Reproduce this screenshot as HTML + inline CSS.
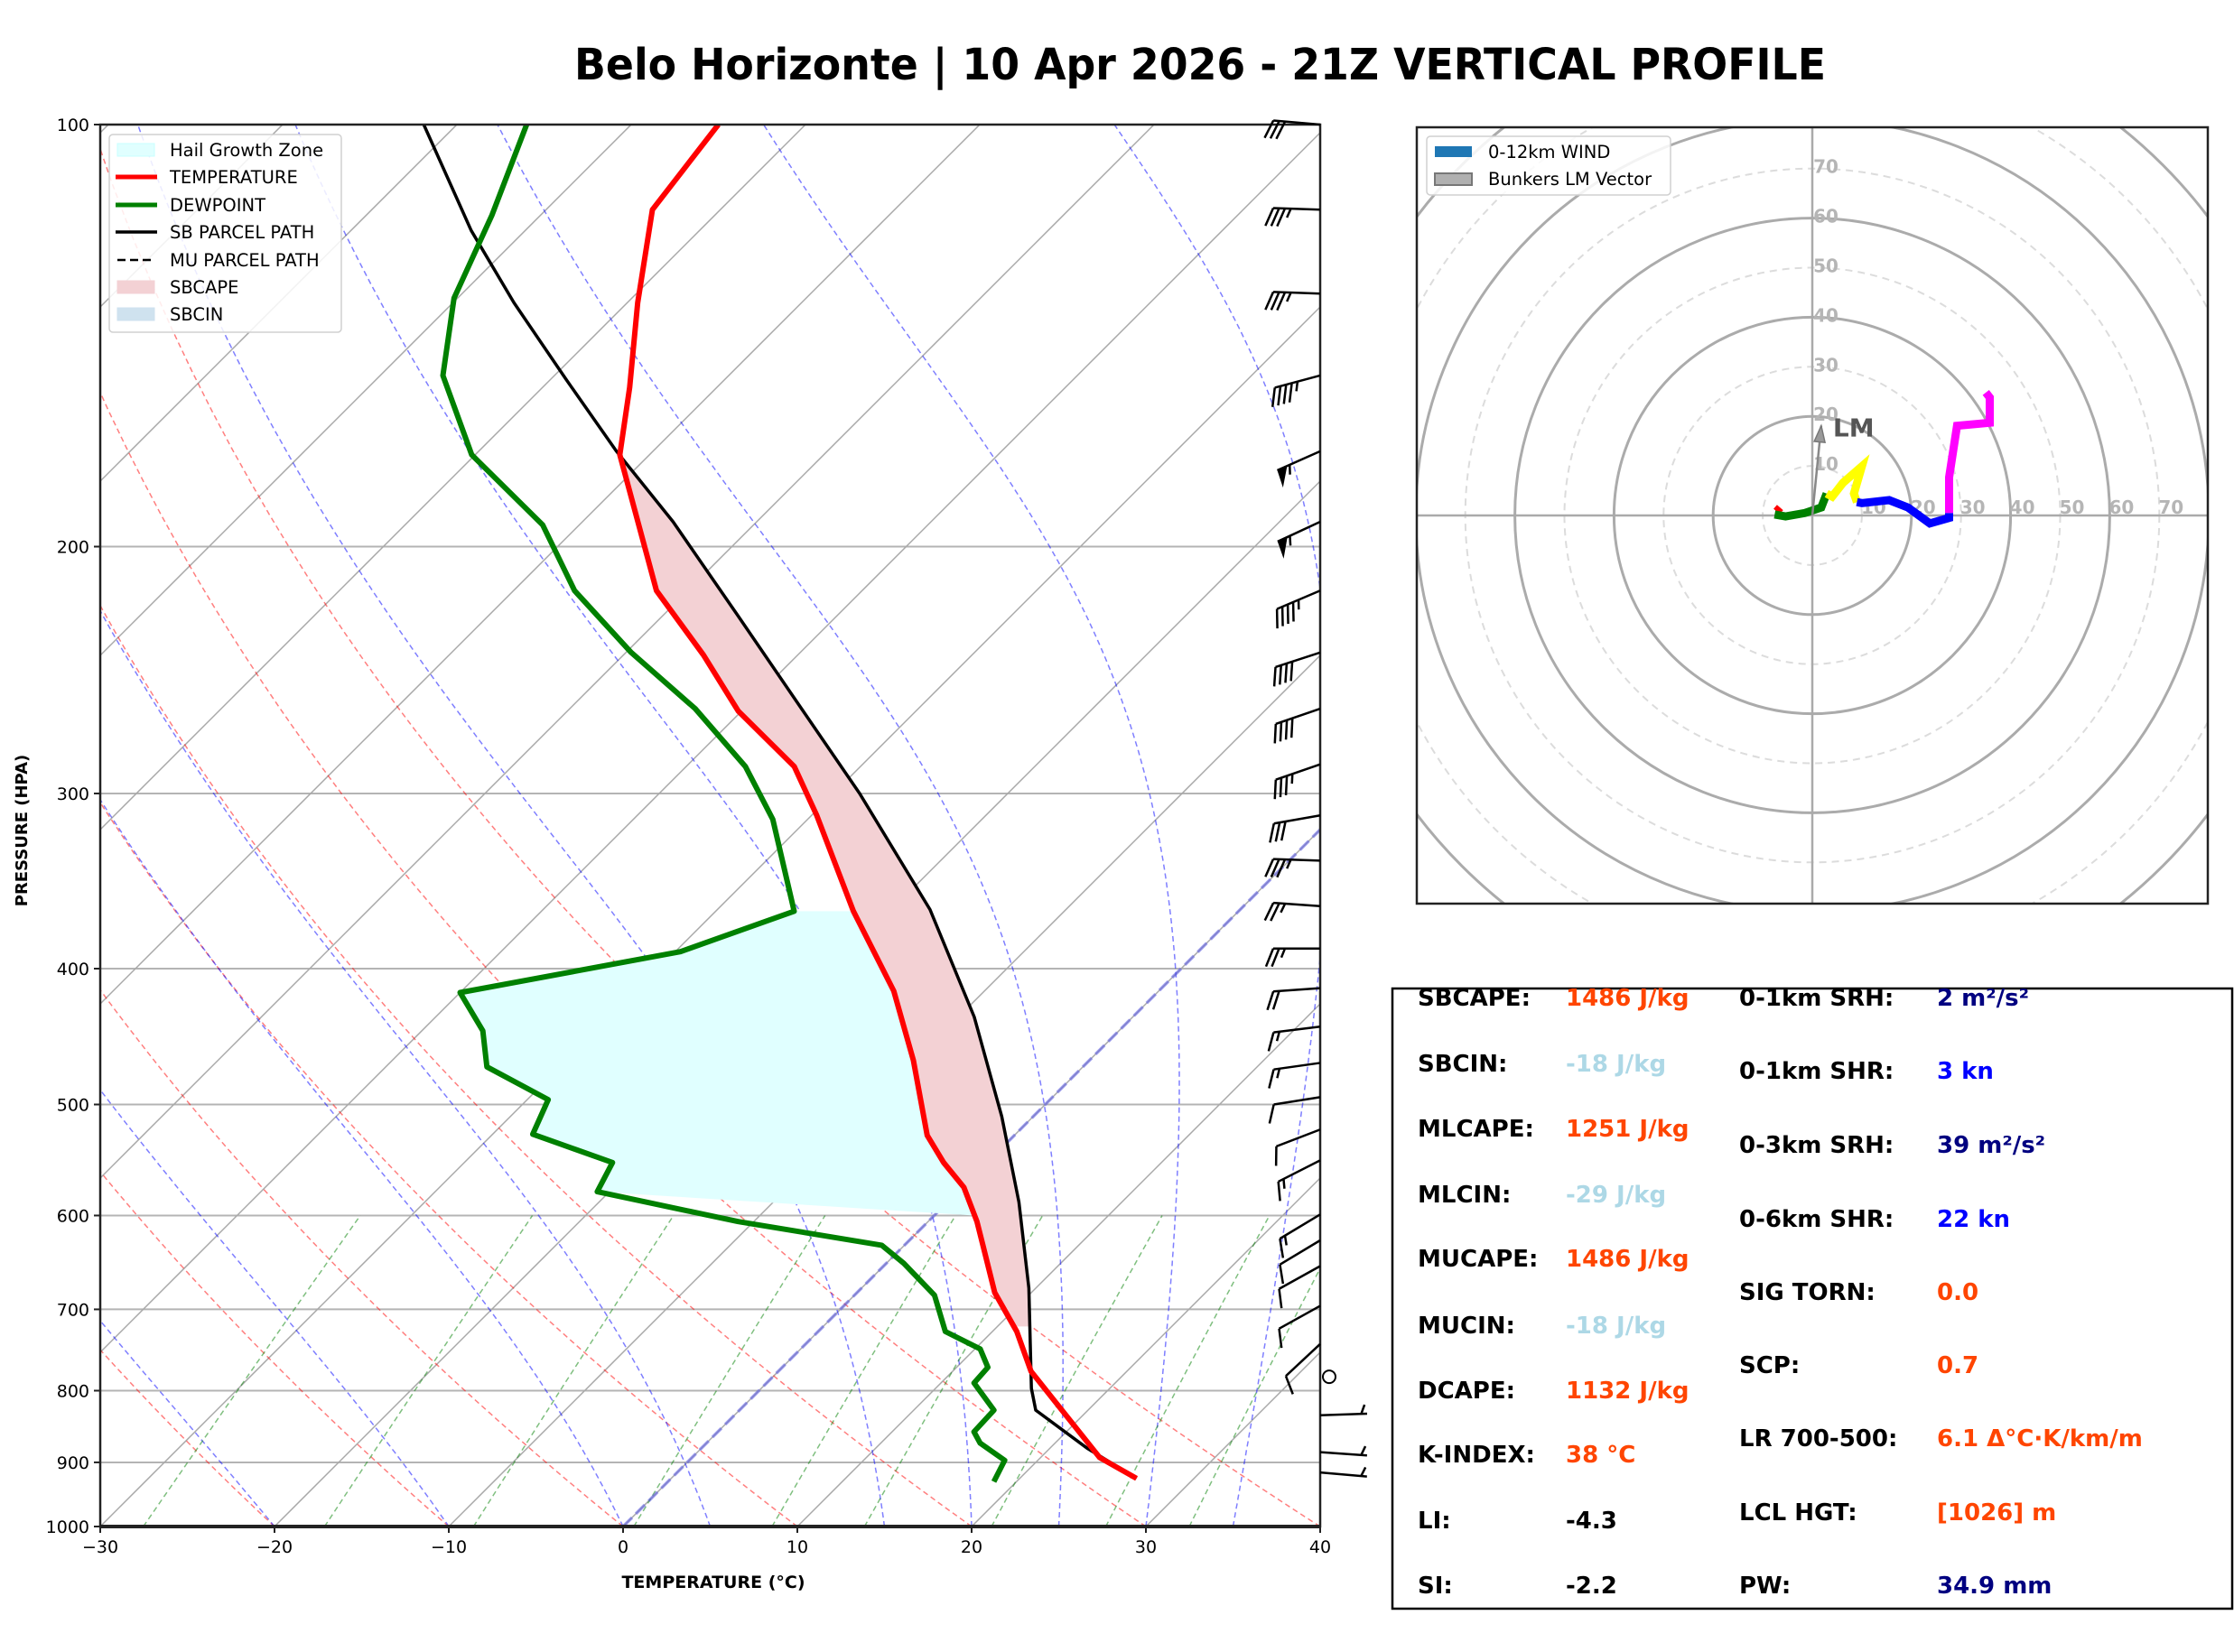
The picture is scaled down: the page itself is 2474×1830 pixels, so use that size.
<!DOCTYPE html>
<html><head><meta charset="utf-8"><title>Belo Horizonte Vertical Profile</title>
<style>html,body{margin:0;padding:0;background:#fff}svg{display:block;font-family:"DejaVu Sans","Liberation Sans",sans-serif}</style>
</head><body>
<svg id="chart" xmlns="http://www.w3.org/2000/svg" width="2474" height="1830" viewBox="0 0 2474 1830">
<defs>
<clipPath id="skewclip"><rect x="111" y="138" width="1351" height="1553"/></clipPath>
<clipPath id="hodoclip"><rect x="1569" y="141" width="876" height="860"/></clipPath>
</defs>
<text x="1329" y="88" text-anchor="middle" font-size="48" font-weight="bold" textLength="1386" lengthAdjust="spacingAndGlyphs">Belo Horizonte | 10 Apr 2026 - 21Z VERTICAL PROFILE</text>
<g id="skew"></g>
<g id="hodo"></g>
<g id="table"></g>
</svg>
<script>
// ---- Sounding data ----
const tempP=[924,893,826,775,726,681,630,606,573,550,526,465,415,364,311,287,262,239,215,172,154,134,115,100];
const tempT=[26.7,23.4,18.5,14.5,11.4,7.9,4.5,2.8,0.1,-2.5,-5,-10.1,-15.2,-22.1,-29.7,-33.8,-40.2,-45.4,-51.8,-61.7,-65,-69.4,-73.9,-75];
const dewP=[929,897,872,856,826,790,770,747,726,684,649,630,606,577,550,525,496,470,443,416,389,364,313,287,261,238,215,193,172,151,133,116,100];
const dewT=[18.7,18.1,15.7,14.7,14.6,11.9,11.8,10.3,7.3,4.6,1,-1.3,-10.9,-20.7,-21.5,-27.7,-28.8,-34.2,-36.5,-40,-29.7,-25.5,-32,-36.6,-42.8,-49.7,-56.5,-62.1,-70.2,-76.4,-80.2,-82.8,-86];
const parcelP=[924,880,826,797,676,587,510,433,363,300,261,224,192,171,152,134,119,100];
const parcelT=[26.7,22.2,17,15.5,9.6,4.1,-1.8,-9.1,-17.8,-28.5,-36.7,-45.7,-54.8,-62.1,-69.1,-76.5,-83.1,-91.9];
const windP=[100,115,132,151,171,192,215,238,261,286,311,335,361,387,413,440,467,494,521,548,599,625,652,696,741,782,833,885,915];
const windSpd=[30,35,35,45,55,55,45,40,40,35,30,35,25,25,20,15,15,10,10,15,15,10,10,10,10,0,5,5,5];
const windDir=[275,272,272,255,246,245,247,252,251,251,260,272,274,270,266,263,262,261,249,243,239,239,241,241,227,0,88,94,95];
const pTicks=[100,200,300,400,500,600,700,800,900,1000];
const tTicks=[-30,-20,-10,0,10,20,30,40];
const dryT0=[-30,-20,-10,0,10,20,30,40];
const moistT0=[-20,-10,0,5,15,20,25,30,35];
const mixW=[0.0004,0.001,0.002,0.004,0.007,0.01,0.016,0.024,0.032];
// ---- Hodograph data (knots) ----
const hodoRedU=[-6.5,-7.2]; const hodoRedV=[1.6,0.8];
const hodoGreenU=[-7.6,-5.4,-1.5,1.8,2.9]; const hodoGreenV=[0.2,-0.2,0.5,1.6,4.4];
const hodoYellowU=[2.9,4,6.2,10,8.4,9]; const hodoYellowV=[4.4,3.8,6.6,9.9,4.4,2.7];
const hodoBlueU=[9,10,15.5,19.3,23.7,27.6,27.6]; const hodoBlueV=[2.7,2.5,3.1,1.6,-1.6,-0.5,0.5];
const hodoMagU=[27.6,27.6,29.2,35.8,35.8,35.8,35]; const hodoMagV=[0.5,7.7,18.1,18.7,23.1,23.8,24.8];
const lmU=1.8, lmV=18.1;
const ringKn=[10,20,30,40,50,60,70,80,90,100];
const ringLabels=[10,20,30,40,50,60,70];

const NS='http://www.w3.org/2000/svg';
function el(tag,attrs,parent){const e=document.createElementNS(NS,tag);for(const k in attrs)e.setAttribute(k,attrs[k]);parent.appendChild(e);return e;}
const X0=111,X1=1462,YT=138,YB=1691;
function yP(p){return YB-Math.log10(1000/p)*(YB-YT);}
function xTP(T,p){return X0+(T+30)/70*(X1-X0)+(YB-yP(p));}
function interp(P,T,p){const lp=Math.log(p);for(let i=0;i<P.length-1;i++){const a=Math.log(P[i]),b=Math.log(P[i+1]);if((lp<=a&&lp>=b)){return T[i]+(T[i+1]-T[i])*(lp-a)/(b-a);}}return lp>Math.log(P[0])?T[0]:T[T.length-1];}
function pathFrom(pts){return pts.map((q,i)=>(i?'L':'M')+q[0].toFixed(1)+','+q[1].toFixed(1)).join('');}

const skew=document.getElementById('skew');
const clipG=el('g',{'clip-path':'url(#skewclip)'},skew);



pTicks.forEach(p=>{const l=el('line',{x1:X0,x2:X1,y1:yP(p),y2:yP(p),stroke:'#b4b4b4','stroke-width':2},clipG);

});
for(let T=-120;T<=40;T+=10){const l=el('line',{x1:xTP(T,1000),y1:YB,x2:xTP(T,100),y2:YT,stroke:'#a8a8a8','stroke-width':1.5},clipG);

}
dryT0.forEach(t0=>{const pts=[];for(let p=1000;p>=100;p-=10){const T=(t0+273.15)*Math.pow(p/1000,0.2857)-273.15;pts.push([xTP(T,p),yP(p)]);}
const e=el('path',{d:pathFrom(pts),fill:'none',stroke:'rgba(255,0,0,0.5)','stroke-width':1.5,'stroke-dasharray':'6,4'},clipG);

});
function es(Tc){return 6.112*Math.exp(17.67*Tc/(Tc+243.5));}
function dTdp(T,p){const Tc=T-273.15;const e=es(Tc);const rs=0.622*e/(p-e);return (287.04*T+2.501e6*rs)/(p*(1005.7+2.501e6*2.501e6*rs*0.622/(287.04*T*T)));}
moistT0.forEach(t0=>{let T=t0+273.15;const pts=[[xTP(t0,1000),YB]];const dp=-5;for(let p=1000;p>100;p+=dp){const k1=dTdp(T,p);const k2=dTdp(T+k1*dp,p+dp);T+= (k1+k2)/2*dp;pts.push([xTP(T-273.15,p+dp),yP(p+dp)]);}
const e=el('path',{d:pathFrom(pts),fill:'none',stroke:'rgba(0,0,255,0.5)','stroke-width':1.5,'stroke-dasharray':'6,4'},clipG);

});
mixW.forEach(w=>{const pts=[];for(let p=1000;p>=600;p-=10){const e=w*p/(0.622+w);const L=Math.log(e/6.112);const Td=243.5*L/(17.67-L);pts.push([xTP(Td,p),yP(p)]);}
const e=el('path',{d:pathFrom(pts),fill:'none',stroke:'rgba(0,128,0,0.5)','stroke-width':1.5,'stroke-dasharray':'6,4'},clipG);

});
const fz=el('line',{x1:xTP(0,1000),y1:YB,x2:xTP(0,100),y2:YT,stroke:'rgba(90,90,230,0.55)','stroke-width':3.5,'stroke-dasharray':'14,6'},clipG);



{const a=[],b=[];for(let i=0;i<=80;i++){const p=Math.exp(Math.log(720)+(Math.log(172)-Math.log(720))*i/80);a.push([xTP(interp(parcelP,parcelT,p),p),yP(p)]);b.push([xTP(interp(tempP,tempT,p),p),yP(p)]);}
const e=el('path',{d:pathFrom(a.concat(b.reverse()))+'Z',fill:'#f3d1d4',stroke:'none'},clipG);

}
{const r=[],l=[];for(let i=0;i<=60;i++){const p=Math.exp(Math.log(600)+(Math.log(364)-Math.log(600))*i/60);r.push([xTP(interp(tempP,tempT,p),p),yP(p)]);}
for(let i=0;i<=60;i++){const p=Math.exp(Math.log(364)+(Math.log(577)-Math.log(364))*i/60);l.push([xTP(interp(dewP,dewT,p),p),yP(p)]);}
const e=el('path',{d:pathFrom(r.concat(l))+'Z',fill:'#e0ffff',stroke:'none'},clipG);

}

function profile(P,T,color,w,name){const pts=P.map((p,i)=>[xTP(T[i],p),yP(p)]);const e=el('path',{d:pathFrom(pts),fill:'none',stroke:color,'stroke-width':w,'stroke-linejoin':'round'},clipG);

}
profile(parcelP,parcelT,'#000',3.5,'sb-parcel-path');
profile(dewP,dewT,'#008000',6,'dewpoint-line');
profile(tempP,tempT,'#ff0000',6,'temperature-line');

const fr=el('rect',{x:X0,y:YT,width:X1-X0,height:YB-YT,fill:'none',stroke:'#222','stroke-width':2.5},skew);


const fb=el('line',{x1:X0,x2:X1,y1:YB,y2:YB,stroke:'#222','stroke-width':4},skew);


pTicks.forEach(p=>{el('line',{x1:X0-7,x2:X0,y1:yP(p),y2:yP(p),stroke:'#222','stroke-width':2},skew);
const t=el('text',{x:X0-12,y:yP(p)+7,'text-anchor':'end','font-size':19},skew);t.textContent=p;

});
tTicks.forEach(T=>{const x=X0+(T+30)/70*(X1-X0);el('line',{x1:x,x2:x,y1:YB,y2:YB+7,stroke:'#222','stroke-width':2},skew);
const t=el('text',{x:x,y:YB+29,'text-anchor':'middle','font-size':19},skew);t.textContent=(T<0?'\u2212'+(-T):T);

});
{const t=el('text',{x:790,y:1759,'text-anchor':'middle','font-size':19,'font-weight':'bold'},skew);t.textContent='TEMPERATURE (°C)';


const t2=el('text',{x:30,y:920,'text-anchor':'middle','font-size':18,'font-weight':'bold',transform:'rotate(-90 30 920)'},skew);t2.textContent='PRESSURE (HPA)';

}

const barbG=el('g',{},skew);


windP.forEach((p,i)=>{const bx=1462,by=yP(p);const s=windSpd[i];
if(s<2.5){const c=el('circle',{cx:bx+10,cy:by,r:7,fill:'none',stroke:'#000','stroke-width':2},barbG);

return;}
const g=el('g',{},barbG);


const r=windDir[i]*Math.PI/180;const dx=Math.sin(r),dy=-Math.cos(r);const nx=dy,ny=-dx;const L=52,F=20,sp=6.5;
const tx=bx+dx*L,ty=by+dy*L;el('line',{x1:bx,y1:by,x2:tx,y2:ty,stroke:'#000','stroke-width':2.5},g);
let rem=Math.round(s/5)*5;let pos=L;const flags=Math.floor(rem/50);rem-=flags*50;const full=Math.floor(rem/10);rem-=full*10;const half=rem>=5;
for(let f=0;f<flags;f++){const ax=bx+dx*pos,ay=by+dy*pos,cx2=bx+dx*(pos-12),cy2=by+dy*(pos-12);
el('polygon',{points:`${ax},${ay} ${cx2},${cy2} ${ax+nx*F+dx*2},${ay+ny*F+dy*2}`,fill:'#000'},g);pos-=15;}
if(flags===0&&full===0&&half)pos-=sp;
for(let f=0;f<full;f++){const ax=bx+dx*pos,ay=by+dy*pos;el('line',{x1:ax,y1:ay,x2:ax+nx*F+dx*F*0.4,y2:ay+ny*F+dy*F*0.4,stroke:'#000','stroke-width':2.5},g);pos-=sp;}
if(half){const ax=bx+dx*pos,ay=by+dy*pos;el('line',{x1:ax,y1:ay,x2:ax+nx*F/2+dx*F*0.2,y2:ay+ny*F/2+dy*F*0.2,stroke:'#000','stroke-width':2.5},g);}
});

{const lg=el('g',{},skew);


el('rect',{x:121,y:149,width:257,height:219,rx:4,fill:'rgba(255,255,255,0.85)',stroke:'#d0d0d0','stroke-width':1.5},lg);
const items=[['Hail Growth Zone','patch','#e0ffff','#c8ffff'],['TEMPERATURE','line','#ff0000'],['DEWPOINT','line','#008000'],['SB PARCEL PATH','line','#000'],['MU PARCEL PATH','dash','#000'],['SBCAPE','patch','#f3d1d4','#f3d1d4'],['SBCIN','patch','#cfe2ef','#cfe2ef']];
const ys=[166,196,227,257,288,318,348];
items.forEach((it,i)=>{const y=ys[i];
if(it[1]==='patch')el('rect',{x:130,y:y-7,width:41,height:14,fill:it[2],stroke:it[3]},lg);
else if(it[1]==='line')el('line',{x1:128,x2:174,y1:y,y2:y,stroke:it[2],'stroke-width':i===3?3.5:5},lg);
else el('line',{x1:130,x2:172,y1:y,y2:y,stroke:it[2],'stroke-width':2.5,'stroke-dasharray':'9,5'},lg);
const t=el('text',{x:188,y:y+7,'font-size':19.5},lg);t.textContent=it[0];

});}

const hodo=document.getElementById('hodo');
const HCX=2007,HCY=571,K=5.49;
const hc=el('g',{'clip-path':'url(#hodoclip)'},hodo);


ringKn.forEach(r=>{const solid=r%20===0;const c=el('circle',{cx:HCX,cy:HCY,r:r*K,fill:'none',stroke:solid?'#ababab':'#dcdcdc','stroke-width':solid?3:2,'stroke-dasharray':solid?'none':'8,6'},hc);

});
el('line',{x1:1569,x2:2445,y1:HCY,y2:HCY,stroke:'#aaa','stroke-width':2.5},hc);
el('line',{x1:HCX,x2:HCX,y1:141,y2:1001,stroke:'#aaa','stroke-width':2.5},hc);
ringLabels.forEach(r=>{const t=el('text',{x:HCX+15,y:HCY-r*K+5,'text-anchor':'middle','font-size':20,'font-weight':'bold',fill:'#b5b5b5'},hc);t.textContent=r;


const t2=el('text',{x:HCX+r*K+13,y:HCY-2,'text-anchor':'middle','font-size':20,'font-weight':'bold',fill:'#b5b5b5'},hc);t2.textContent=r;

});
function hseg(U,V,color,name){const pts=U.map((u,i)=>[HCX+u*K,HCY-V[i]*K]);const e=el('path',{d:pathFrom(pts),fill:'none',stroke:color,'stroke-width':9,'stroke-linejoin':'miter'},hc);

}
hseg(hodoRedU,hodoRedV,'#ff0000','hodo-segment-0-1km');
hseg(hodoGreenU,hodoGreenV,'#008000','hodo-segment-1-3km');
hseg(hodoYellowU,hodoYellowV,'#ffff00','hodo-segment-3-6km');
hseg(hodoBlueU,hodoBlueV,'#0000ff','hodo-segment-6-9km');
hseg(hodoMagU,hodoMagV,'#ff00ff','hodo-segment-9-12km');
{const ex=HCX+lmU*K,ey=HCY-lmV*K;const a=Math.atan2(ey-HCY,ex-HCX);
el('line',{x1:HCX,y1:HCY,x2:ex,y2:ey,stroke:'#888','stroke-width':2.5},hc);
const hl=18,hw=6;const bxh=ex-Math.cos(a)*hl,byh=ey-Math.sin(a)*hl;
const ar=el('polygon',{points:`${ex},${ey} ${bxh-Math.sin(a)*hw},${byh+Math.cos(a)*hw} ${bxh+Math.sin(a)*hw},${byh-Math.cos(a)*hw}`,fill:'#999',stroke:'#777','stroke-width':1.5},hc);


const t=el('text',{x:ex+13,y:ey+12,'font-size':28,'font-weight':'bold',fill:'#555'},hc);t.textContent='LM';

}
{const f=el('rect',{x:1569,y:141,width:876,height:860,fill:'none',stroke:'#222','stroke-width':2.5},hodo);


const lg=el('g',{},hodo);


el('rect',{x:1580,y:151,width:270,height:65,rx:4,fill:'rgba(255,255,255,0.85)',stroke:'#d0d0d0','stroke-width':1.5},lg);
el('rect',{x:1589,y:162,width:41,height:12,fill:'#1f77b4'},lg);
el('rect',{x:1589,y:192,width:41,height:13,fill:'#b0b0b0',stroke:'#777','stroke-width':2},lg);
const t1=el('text',{x:1648,y:175,'font-size':19.5},lg);t1.textContent='0-12km WIND';


const t2=el('text',{x:1648,y:205,'font-size':19.5},lg);t2.textContent='Bunkers LM Vector';

}

const tb=document.getElementById('table');
{const b=el('rect',{x:1542,y:1095,width:930,height:687,fill:'#fff',stroke:'#000','stroke-width':2.5},tb);

}
const leftRows=[['SBCAPE:','1486 J/kg','#ff4500'],['SBCIN:','-18 J/kg','#add8e6'],['MLCAPE:','1251 J/kg','#ff4500'],['MLCIN:','-29 J/kg','#add8e6'],['MUCAPE:','1486 J/kg','#ff4500'],['MUCIN:','-18 J/kg','#add8e6'],['DCAPE:','1132 J/kg','#ff4500'],['K-INDEX:','38 °C','#ff4500'],['LI:','-4.3','#000'],['SI:','-2.2','#000']];
const leftY=[1104,1177,1249,1322,1393,1467,1539,1610,1683,1755];
const rightRows=[['0-1km SRH:','2 m²/s²','#000080'],['0-1km SHR:','3 kn','#0000ff'],['0-3km SRH:','39 m²/s²','#000080'],['0-6km SHR:','22 kn','#0000ff'],['SIG TORN:','0.0','#ff4500'],['SCP:','0.7','#ff4500'],['LR 700-500:','6.1 Δ°C·K/km/m','#ff4500'],['LCL HGT:','[1026] m','#ff4500'],['PW:','34.9 mm','#000080']];
const rightY=[1104,1185,1267,1349,1430,1511,1592,1674,1755];
function row(lx,vx,y,r){const a=el('text',{x:lx,y:y+10,'font-size':26,'font-weight':'bold',fill:'#000'},tb);a.textContent=r[0];


const v=el('text',{x:vx,y:y+10,'font-size':26,'font-weight':'bold',fill:r[2]},tb);v.textContent=r[1];

}
leftRows.forEach((r,i)=>row(1570,1734,leftY[i],r));
rightRows.forEach((r,i)=>row(1926,2145,rightY[i],r));
</script>
</body></html>
